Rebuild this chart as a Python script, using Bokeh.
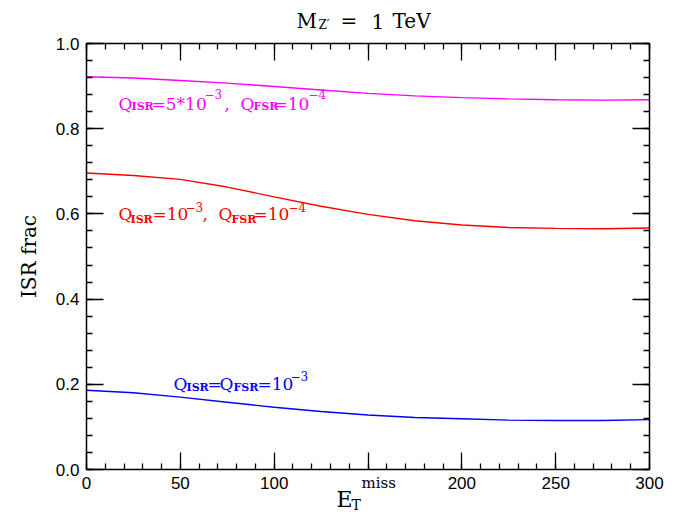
from bokeh.plotting import figure
from bokeh.models import Label, LinearAxis, Range1d, SingleIntervalTicker
from bokeh.embed import file_html
from bokeh.resources import INLINE

# ---- data ----
et_miss = [0, 25, 50, 75, 100, 125, 150, 175, 200, 225, 250, 275, 300]
isr_5e3_fsr_1e4 = [0.922, 0.919, 0.913, 0.907, 0.899, 0.891, 0.883, 0.877, 0.873, 0.870, 0.868, 0.867, 0.868]
isr_1e3_fsr_1e4 = [0.696, 0.690, 0.681, 0.663, 0.640, 0.618, 0.599, 0.584, 0.574, 0.568, 0.566, 0.565, 0.567]
isr_fsr_1e3 = [0.186, 0.180, 0.170, 0.158, 0.146, 0.136, 0.128, 0.122, 0.119, 0.116, 0.115, 0.115, 0.117]
x_ticks = [0, 50, 100, 150, 200, 250, 300]
x_tick_labels = ["0", "50", "100", "", "200", "250", "300"]   # 150 is covered by the axis title
y_ticks = [0.0, 0.2, 0.4, 0.6, 0.8, 1.0]
y_tick_labels = ["0.0", "0.2", "0.4", "0.6", "0.8", "1.0"]
X_LIM = (0, 300)
Y_LIM = (0.0, 1.0)

MAGENTA = "#ff00ff"
RED = "#ff0000"
BLUE = "#0000ff"
SERIF = "DejaVu Serif"

# The frame covers the whole canvas so that titles drawn as labels are not clipped;
# the visible box is made of four axes pinned to the data limits.
W, H = 688, 525
FRAME_L, FRAME_R, FRAME_T, FRAME_B = 86, 649, 43, 469
kx = (X_LIM[1] - X_LIM[0]) / (FRAME_R - FRAME_L)
ky = (Y_LIM[1] - Y_LIM[0]) / (FRAME_B - FRAME_T)
x_range = Range1d(X_LIM[0] - FRAME_L * kx, X_LIM[0] + (W - FRAME_L) * kx)
y_range = Range1d(Y_LIM[0] - (H - FRAME_B) * ky, Y_LIM[0] + FRAME_B * ky)

p = figure(width=W, height=H, output_backend="svg", toolbar_location=None,
           x_range=x_range, y_range=y_range,
           x_axis_location=None, y_axis_location=None,
           min_border=0, min_border_left=0, min_border_right=0,
           min_border_top=0, min_border_bottom=0,
           background_fill_color="white", border_fill_color="white")
p.outline_line_color = None
p.xgrid.visible = False
p.ygrid.visible = False


def make_axis(fixed, bounds, interval, show_labels, ticks=None, labels=None):
    ax = LinearAxis(fixed_location=fixed, bounds=bounds,
                    ticker=SingleIntervalTicker(interval=interval, num_minor_ticks=5))
    ax.axis_line_width = 1.5
    ax.axis_line_color = "black"
    ax.major_tick_in = 17
    ax.major_tick_out = 0
    ax.minor_tick_in = 6
    ax.minor_tick_out = 0
    ax.major_tick_line_width = 1.3
    ax.minor_tick_line_width = 1.3
    ax.major_tick_line_color = "black"
    ax.minor_tick_line_color = "black"
    if show_labels:
        ax.major_label_text_font = "Liberation Sans"
        ax.major_label_text_font_size = "17px"
        ax.major_label_text_color = "black"
        ax.major_label_standoff = 7
        ax.major_label_overrides = dict(zip(ticks, labels))
    else:
        ax.major_label_text_color = None
        ax.major_label_text_font_size = "0px"
    return ax


bottom = make_axis(Y_LIM[0], X_LIM, 50, True, x_ticks, x_tick_labels)
top = make_axis(Y_LIM[1], X_LIM, 50, False)
left = make_axis(X_LIM[0], Y_LIM, 0.2, True, y_ticks, y_tick_labels)
right = make_axis(X_LIM[1], Y_LIM, 0.2, False)
left.axis_label = "ISR frac"
left.axis_label_text_font = SERIF
left.axis_label_text_font_style = "normal"
left.axis_label_text_font_size = "20px"
left.axis_label_text_color = "black"
left.axis_label_standoff = 12
p.add_layout(bottom, "below")
p.add_layout(top, "above")
p.add_layout(left, "left")
p.add_layout(right, "right")

p.line(et_miss, isr_5e3_fsr_1e4, line_color=MAGENTA, line_width=1.4)
p.line(et_miss, isr_1e3_fsr_1e4, line_color=RED, line_width=1.4)
p.line(et_miss, isr_fsr_1e3, line_color=BLUE, line_width=1.4)


def seg(text, x, y, size, color, bold=False, font=SERIF):
    p.add_layout(Label(x=x, y=y, text=text, text_font=font, text_font_size=size,
                       text_color=color, text_baseline="alphabetic", text_align="left",
                       text_font_style="bold" if bold else "normal"))


MAIN, SUB, SUP = "17px", "11px", "12px"

# magenta label
yb, ys, yp = 0.8591, 0.8514, 0.8824
seg("Q", 17.05, yb, MAIN, MAGENTA)
seg("ISR", 23.98, ys, SUB, MAGENTA, True)
seg("=5*10", 34.64, yb, MAIN, MAGENTA)
seg("−3", 62.88, yp, SUP, MAGENTA)
seg(",", 73.53, yb, MAIN, MAGENTA)
seg("Q", 82.06, yb, MAIN, MAGENTA)
seg("FSR", 88.99, ys, SUB, MAGENTA, True)
seg("=10", 99.65, yb, MAIN, MAGENTA)
seg("−4", 118.3, yp, SUP, MAGENTA)

# red label
yb, ys, yp = 0.5986, 0.5857, 0.6157
seg("Q", 17.05, yb, MAIN, RED)
seg("ISR", 23.45, ys, SUB, RED, True)
seg("=10", 35.17, yb, MAIN, RED)
seg("−3", 52.75, yp, SUP, RED)
seg(",", 61.8, yb, MAIN, RED)
seg("Q", 70.34, yb, MAIN, RED)
seg("FSR", 77.26, ys, SUB, RED, True)
seg("=10", 88.99, yb, MAIN, RED)
seg("−4", 107.6, yp, SUP, RED)

# blue label
yb, ys, yp = 0.2018, 0.1924, 0.2206
seg("Q", 46.36, yb, MAIN, BLUE)
seg("ISR", 53.29, ys, SUB, BLUE, True)
seg("=", 64.48, yb, MAIN, BLUE)
seg("Q", 70.87, yb, MAIN, BLUE)
seg("FSR", 78.33, ys, SUB, BLUE, True)
seg("=10", 91.12, yb, MAIN, BLUE)
seg("−3", 108.7, yp, SUP, BLUE)

# title  M_Z' = 1 TeV
seg("M", 111.9, 1.0517, "20px", "black")
seg("Z′", 123.6, 1.0423, "12px", "black")
seg("=", 135.3, 1.0517, "20px", "black")
seg("1", 151.9, 1.0517, "20px", "black")
seg("TeV", 163.1, 1.0517, "20px", "black")

# x axis title  E_T^miss
seg("E", 133.2, -0.0704, "22px", "black")
seg("T", 141.2, -0.0845, "14px", "black")
seg("miss", 146.5, -0.0328, "15px", "black")

open("out.html", "w").write(file_html(p, INLINE))
